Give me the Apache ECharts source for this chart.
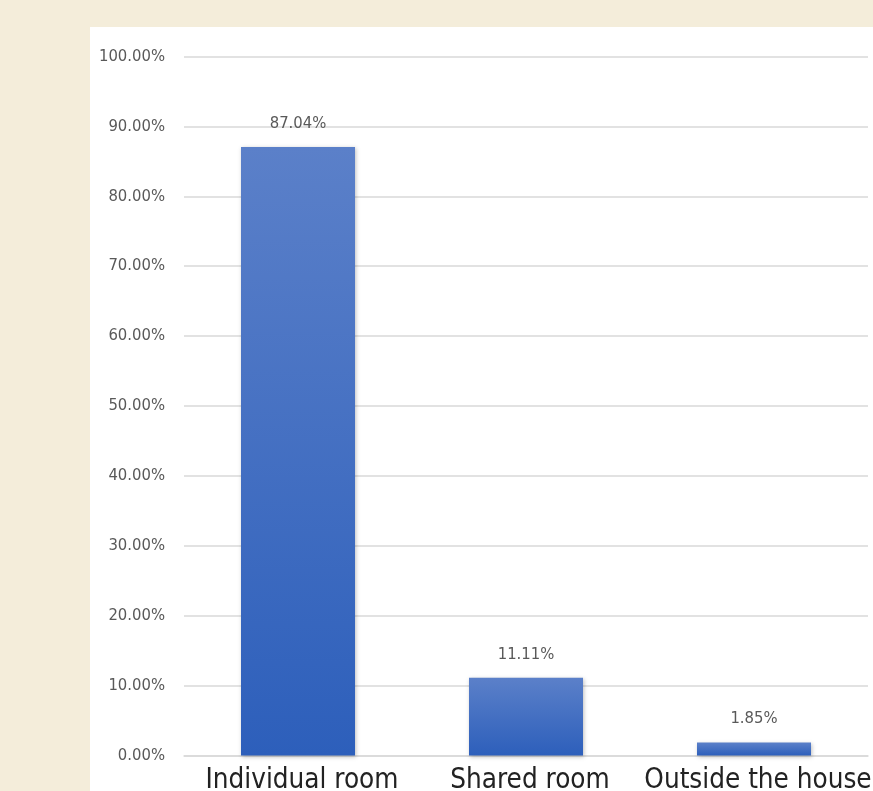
<!DOCTYPE html>
<html>
<head>
<meta charset="utf-8">
<script src="https://cdn.jsdelivr.net/npm/echarts@6/dist/echarts.min.js"></script>
<style>
  html, body { margin: 0; padding: 0; background: #f4edda; overflow: hidden; }
  #chart { width: 873px; height: 791px; }
</style>
</head>
<body>
<div id="chart"></div>
<script>
// Where the room is located
const categories = ['Individual room', 'Shared room', 'Outside the house'];
const shares = [87.04, 11.11, 1.85];
const yMin = 0;
const yMax = 100;
const yStep = 10;

const chart = echarts.init(document.getElementById('chart'), null, { renderer: 'canvas', width: 873, height: 791 });
const narrow = '"DejaVu Sans Condensed", "Liberation Sans Narrow", "Liberation Sans", sans-serif';

chart.setOption({
  backgroundColor: '#f4edda',
  animation: false,
  graphic: [{
    type: 'rect',
    z: -10,
    shape: { x: 90, y: 27, width: 783, height: 764 },
    style: { fill: '#ffffff' }
  }],
  grid: { left: 184, right: 5, top: 56.5, bottom: 35.5, containLabel: false, outerBoundsMode: 'none' },
  xAxis: {
    type: 'category',
    data: categories,
    axisLine: { show: true, lineStyle: { color: '#d9d9d9', width: 1.5 } },
    axisTick: { show: false },
    axisLabel: {
      interval: 0,
      hideOverlap: false,
      margin: 11,
      padding: [0, 0, 0, 8],
      color: '#222222',
      fontFamily: narrow,
      fontSize: 27.6
    }
  },
  yAxis: {
    type: 'value',
    min: yMin,
    max: yMax,
    interval: yStep,
    axisLine: { show: false },
    axisTick: { show: false },
    splitLine: { lineStyle: { color: '#d9d9d9', width: 1.5 } },
    axisLabel: {
      margin: 19,
      color: '#595959',
      fontFamily: narrow,
      fontSize: 16.5,
      formatter: v => v.toFixed(2) + '%'
    }
  },
  series: [{
    type: 'bar',
    data: shares,
    barWidth: '50%',
    itemStyle: {
      color: new echarts.graphic.LinearGradient(0, 0, 0, 1, [
        { offset: 0, color: '#5b80c9' },
        { offset: 1, color: '#2d5fbb' }
      ]),
      shadowBlur: 4,
      shadowColor: 'rgba(0,0,0,0.25)',
      shadowOffsetX: 1,
      shadowOffsetY: 1
    },
    label: {
      show: true,
      position: 'top',
      distance: 15,
      color: '#595959',
      fontFamily: narrow,
      fontSize: 16.5,
      formatter: p => p.value.toFixed(2) + '%'
    }
  }]
});
</script>
</body>
</html>
